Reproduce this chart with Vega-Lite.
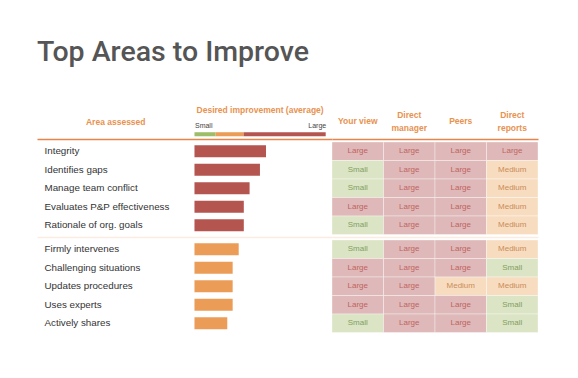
{
  "$schema": "https://vega.github.io/schema/vega-lite/v6.json",
  "padding": {"left": 37, "top": 37, "right": 0, "bottom": 0},
  "title": {"text": "Top Areas to Improve", "anchor": "start", "frame": "group", "font": "Roboto", "fontSize": 28.5, "fontWeight": 500, "color": "#555555", "offset": 40.2},
  "bounds": "flush",
  "columns": 2,
  "spacing": {"row": 5, "column": 0},
  "config": {"view": {"stroke": null}, "font": "Liberation Sans", "axis": {"grid": false}},
  "datasets": {
    "areas": [
      {"area": "Integrity", "group": 1, "improvement": 54.5, "level": "Large"},
      {"area": "Identifies gaps", "group": 1, "improvement": 49.9, "level": "Large"},
      {"area": "Manage team conflict", "group": 1, "improvement": 42, "level": "Large"},
      {"area": "Evaluates P&P effectiveness", "group": 1, "improvement": 37.6, "level": "Large"},
      {"area": "Rationale of org. goals", "group": 1, "improvement": 37.6, "level": "Large"},
      {"area": "Firmly intervenes", "group": 2, "improvement": 33.7, "level": "Medium"},
      {"area": "Challenging situations", "group": 2, "improvement": 29.1, "level": "Medium"},
      {"area": "Updates procedures", "group": 2, "improvement": 29.1, "level": "Medium"},
      {"area": "Uses experts", "group": 2, "improvement": 29.1, "level": "Medium"},
      {"area": "Actively shares", "group": 2, "improvement": 25, "level": "Medium"}
    ],
    "ratings": [
      {"area": "Integrity", "group": 1, "rater": "Your view", "rating": "Large"},
      {"area": "Integrity", "group": 1, "rater": "Direct manager", "rating": "Large"},
      {"area": "Integrity", "group": 1, "rater": "Peers", "rating": "Large"},
      {"area": "Integrity", "group": 1, "rater": "Direct reports", "rating": "Large"},
      {"area": "Identifies gaps", "group": 1, "rater": "Your view", "rating": "Small"},
      {"area": "Identifies gaps", "group": 1, "rater": "Direct manager", "rating": "Large"},
      {"area": "Identifies gaps", "group": 1, "rater": "Peers", "rating": "Large"},
      {"area": "Identifies gaps", "group": 1, "rater": "Direct reports", "rating": "Medium"},
      {"area": "Manage team conflict", "group": 1, "rater": "Your view", "rating": "Small"},
      {"area": "Manage team conflict", "group": 1, "rater": "Direct manager", "rating": "Large"},
      {"area": "Manage team conflict", "group": 1, "rater": "Peers", "rating": "Large"},
      {"area": "Manage team conflict", "group": 1, "rater": "Direct reports", "rating": "Medium"},
      {"area": "Evaluates P&P effectiveness", "group": 1, "rater": "Your view", "rating": "Large"},
      {"area": "Evaluates P&P effectiveness", "group": 1, "rater": "Direct manager", "rating": "Large"},
      {"area": "Evaluates P&P effectiveness", "group": 1, "rater": "Peers", "rating": "Large"},
      {"area": "Evaluates P&P effectiveness", "group": 1, "rater": "Direct reports", "rating": "Medium"},
      {"area": "Rationale of org. goals", "group": 1, "rater": "Your view", "rating": "Small"},
      {"area": "Rationale of org. goals", "group": 1, "rater": "Direct manager", "rating": "Large"},
      {"area": "Rationale of org. goals", "group": 1, "rater": "Peers", "rating": "Large"},
      {"area": "Rationale of org. goals", "group": 1, "rater": "Direct reports", "rating": "Medium"},
      {"area": "Firmly intervenes", "group": 2, "rater": "Your view", "rating": "Small"},
      {"area": "Firmly intervenes", "group": 2, "rater": "Direct manager", "rating": "Large"},
      {"area": "Firmly intervenes", "group": 2, "rater": "Peers", "rating": "Large"},
      {"area": "Firmly intervenes", "group": 2, "rater": "Direct reports", "rating": "Medium"},
      {"area": "Challenging situations", "group": 2, "rater": "Your view", "rating": "Large"},
      {"area": "Challenging situations", "group": 2, "rater": "Direct manager", "rating": "Large"},
      {"area": "Challenging situations", "group": 2, "rater": "Peers", "rating": "Large"},
      {"area": "Challenging situations", "group": 2, "rater": "Direct reports", "rating": "Small"},
      {"area": "Updates procedures", "group": 2, "rater": "Your view", "rating": "Large"},
      {"area": "Updates procedures", "group": 2, "rater": "Direct manager", "rating": "Large"},
      {"area": "Updates procedures", "group": 2, "rater": "Peers", "rating": "Medium"},
      {"area": "Updates procedures", "group": 2, "rater": "Direct reports", "rating": "Medium"},
      {"area": "Uses experts", "group": 2, "rater": "Your view", "rating": "Large"},
      {"area": "Uses experts", "group": 2, "rater": "Direct manager", "rating": "Large"},
      {"area": "Uses experts", "group": 2, "rater": "Peers", "rating": "Large"},
      {"area": "Uses experts", "group": 2, "rater": "Direct reports", "rating": "Small"},
      {"area": "Actively shares", "group": 2, "rater": "Your view", "rating": "Small"},
      {"area": "Actively shares", "group": 2, "rater": "Direct manager", "rating": "Large"},
      {"area": "Actively shares", "group": 2, "rater": "Peers", "rating": "Large"},
      {"area": "Actively shares", "group": 2, "rater": "Direct reports", "rating": "Small"}
    ],
    "legend": [
      {"level": "Small", "start": 0, "end": 16.1},
      {"level": "Medium", "start": 16.1, "end": 37.5},
      {"level": "Large", "start": 37.5, "end": 100}
    ],
    "columns": [
      {"rater": "Your view", "label": "Your view"},
      {"rater": "Direct manager", "label": "Direct\nmanager"},
      {"rater": "Peers", "label": "Peers"},
      {"rater": "Direct reports", "label": "Direct\nreports"}
    ]
  },
  "concat": [
    {
      "width": 295, "height": 4.5,
      "layer": [
        {
          "data": {"name": "legend"},
          "mark": {"type": "bar"},
          "encoding": {
            "x": {"field": "start", "type": "quantitative", "scale": {"domain": [-120, 104.8], "nice": false},
              "axis": {"orient": "top", "values": [0, 100], "labelExpr": "datum.value == 0 ? 'Small' : 'Large'",
                "labelAlign": {"condition": {"test": "datum.value == 0", "value": "left"}, "value": "right"},
                "ticks": false, "domain": false, "grid": false, "title": null, "labelFontSize": 7, "labelColor": "#444444", "labelPadding": 4}},
            "x2": {"field": "end"},
            "color": {"field": "level", "type": "nominal", "scale": {"domain": ["Small", "Medium", "Large"], "range": ["#9dbd68", "#eb9c57", "#b5554f"]}, "legend": null}
          }
        },
        {
          "data": {"values": [{"label": "Area assessed"}]},
          "mark": {"type": "text", "fontSize": 8.5, "fontWeight": "bold", "color": "#e8924f", "dy": -12},
          "encoding": {
            "x": {"datum": -60, "type": "quantitative"},
            "text": {"field": "label"}
          }
        },
        {
          "data": {"values": [{"label": "Desired improvement (average)"}]},
          "mark": {"type": "text", "fontSize": 8.5, "fontWeight": "bold", "color": "#e8924f", "dy": -24},
          "encoding": {
            "x": {"datum": 50, "type": "quantitative"},
            "text": {"field": "label"}
          }
        }
      ]
    },
    {
      "width": 206, "height": 4.5,
      "data": {"name": "columns"},
      "encoding": {
        "x": {"field": "rater", "type": "nominal", "sort": ["Your view", "Direct manager", "Peers", "Direct reports"], "scale": {"paddingInner": 0, "paddingOuter": 0}, "axis": null},
        "text": {"field": "label"}
      },
      "layer": [
        {
          "transform": [{"filter": "indexof(datum.label, '\\n') < 0"}],
          "mark": {"type": "text", "fontSize": 8.5, "fontWeight": "bold", "color": "#e8924f", "dy": -13, "baseline": "middle"}
        },
        {
          "transform": [{"filter": "indexof(datum.label, '\\n') >= 0"}],
          "mark": {"type": "text", "fontSize": 8.5, "fontWeight": "bold", "color": "#e8924f", "dy": -19.5, "lineBreak": "\n", "lineHeight": 13, "baseline": "middle"}
        }
      ]
    },
    {
      "width": 295, "height": 92.5,
      "data": {"name": "areas"},
      "transform": [{"filter": "datum.group == 1"}],
      "mark": {"type": "bar"},
      "encoding": {
        "y": {"field": "area", "type": "nominal", "sort": null, "scale": {"paddingInner": 0.35, "paddingOuter": 0.175},
          "axis": {"title": null, "ticks": false, "domain": false, "labelAlign": "left", "labelPadding": -7, "labelFontSize": 9.8, "labelColor": "#333333", "labelLimit": 200}},
        "x": {"field": "improvement", "type": "quantitative", "scale": {"domain": [-120, 104.8], "nice": false},
          "axis": {"orient": "top", "labels": false, "ticks": false, "grid": false, "title": null, "domainColor": "#e8834a", "domainWidth": 1.5, "offset": 3}},
        "color": {"field": "level", "type": "nominal", "scale": {"domain": ["Small", "Medium", "Large"], "range": ["#9dbd68", "#eb9c57", "#b5554f"]}, "legend": null}
      }
    },
    {
      "width": 206, "height": 92.5,
      "data": {"name": "ratings"},
      "transform": [{"filter": "datum.group == 1"}],
      "encoding": {
        "x": {"field": "rater", "type": "nominal", "sort": ["Your view", "Direct manager", "Peers", "Direct reports"], "scale": {"paddingInner": 0, "paddingOuter": 0},
          "axis": {"orient": "top", "title": null, "ticks": false, "grid": false, "labels": false, "domainColor": "#e8834a", "domainWidth": 1.5, "offset": 3}},
        "y": {"field": "area", "type": "nominal", "sort": null, "axis": null}
      },
      "layer": [
        {
          "mark": {"type": "rect", "stroke": "#ffffff", "strokeWidth": 1, "strokeOpacity": 0.35},
          "encoding": {"fill": {"field": "rating", "type": "nominal", "scale": {"domain": ["Large", "Medium", "Small"], "range": ["#dfb9b9", "#f8dcc0", "#dbe4c4"]}, "legend": null}}
        },
        {
          "mark": {"type": "text", "fontSize": 8},
          "encoding": {
            "text": {"field": "rating"},
            "color": {"condition": [{"test": "datum.rating == 'Large'", "value": "#c0645f"}, {"test": "datum.rating == 'Medium'", "value": "#c98c58"}], "value": "#82a061"}
          }
        }
      ]
    },
    {
      "width": 295, "height": 92.5,
      "data": {"name": "areas"},
      "transform": [{"filter": "datum.group == 2"}],
      "mark": {"type": "bar"},
      "encoding": {
        "y": {"field": "area", "type": "nominal", "sort": null, "scale": {"paddingInner": 0.35, "paddingOuter": 0.175},
          "axis": {"title": null, "ticks": false, "domain": false, "labelAlign": "left", "labelPadding": -7, "labelFontSize": 9.8, "labelColor": "#333333", "labelLimit": 200}},
        "x": {"field": "improvement", "type": "quantitative", "scale": {"domain": [-120, 104.8], "nice": false},
          "axis": {"orient": "top", "labels": false, "ticks": false, "grid": false, "title": null, "domainColor": "#fcebe0", "domainWidth": 1.5, "offset": 3}},
        "color": {"field": "level", "type": "nominal", "scale": {"domain": ["Small", "Medium", "Large"], "range": ["#9dbd68", "#eb9c57", "#b5554f"]}, "legend": null}
      }
    },
    {
      "width": 206, "height": 92.5,
      "data": {"name": "ratings"},
      "transform": [{"filter": "datum.group == 2"}],
      "encoding": {
        "x": {"field": "rater", "type": "nominal", "sort": ["Your view", "Direct manager", "Peers", "Direct reports"], "scale": {"paddingInner": 0, "paddingOuter": 0},
          "axis": {"orient": "top", "title": null, "ticks": false, "grid": false, "labels": false, "domainColor": "#fcebe0", "domainWidth": 1.5, "offset": 3}},
        "y": {"field": "area", "type": "nominal", "sort": null, "axis": null}
      },
      "layer": [
        {
          "mark": {"type": "rect", "stroke": "#ffffff", "strokeWidth": 1, "strokeOpacity": 0.35},
          "encoding": {"fill": {"field": "rating", "type": "nominal", "scale": {"domain": ["Large", "Medium", "Small"], "range": ["#dfb9b9", "#f8dcc0", "#dbe4c4"]}, "legend": null}}
        },
        {
          "mark": {"type": "text", "fontSize": 8},
          "encoding": {
            "text": {"field": "rating"},
            "color": {"condition": [{"test": "datum.rating == 'Large'", "value": "#c0645f"}, {"test": "datum.rating == 'Medium'", "value": "#c98c58"}], "value": "#82a061"}
          }
        }
      ]
    }
  ]
}
